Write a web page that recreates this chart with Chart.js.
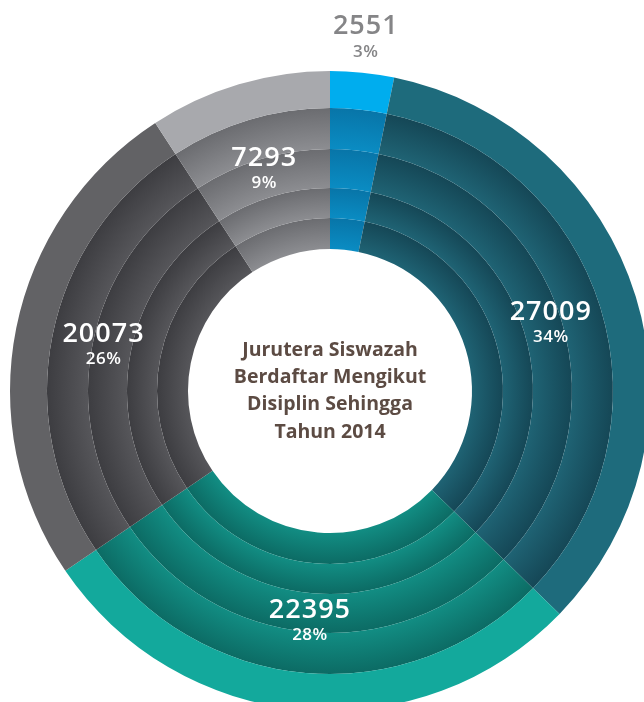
<!DOCTYPE html>
<html>
<head>
<meta charset="utf-8">
<script src="https://cdn.jsdelivr.net/npm/chart.js@4.4.0/dist/chart.umd.min.js"></script>
<style>
  html, body { margin: 0; padding: 0; background: #fff; overflow: hidden; }
  #wrap { position: relative; width: 644px; height: 702px; overflow: hidden; }
  #chart { position: absolute; left: 0; top: 0; }
</style>
</head>
<body>
<div id="wrap"><canvas id="chart" width="660" height="720"></canvas></div>
<script>
// Jurutera Siswazah berdaftar mengikut disiplin (2014), clockwise from top
const values = [2551, 27009, 22395, 20073, 7293];
const pctLabels = ['3%', '34%', '28%', '26%', '9%'];
const centerLines = ['Jurutera Siswazah', 'Berdaftar Mengikut', 'Disiplin Sehingga', 'Tahun 2014'];

// colours per slice: flat outer ring, inner rings shaded (light inner edge -> dark outer edge)
const outerColors = ['#00adee', '#1e6b7c', '#13a99c', '#626265', '#a8a9ad'];
const innerLight  = ['#0a8cc3', '#1f6374', '#128d83', '#56565a', '#8c8d91'];
const innerDark   = ['#0875a8', '#154756', '#0c6b64', '#3d3d41', '#6b6c70'];

// ring thickness, outside to inside
const ringWidths = [37, 41, 39, 30, 31];

const total = values.reduce((a, b) => a + b, 0);

function ringColor(ctx) {
    const i = ctx.dataIndex;
    if (ctx.datasetIndex === 0) return outerColors[i];
    const chart = ctx.chart;
    const ca = chart.chartArea;
    const ctrl = chart.getDatasetMeta(ctx.datasetIndex).controller;
    if (!ca || !ctrl || !ctrl.outerRadius) return innerDark[i];
    const cx = (ca.left + ca.right) / 2, cy = (ca.top + ca.bottom) / 2;
    const g = chart.ctx.createRadialGradient(cx, cy, ctrl.innerRadius, cx, cy, ctrl.outerRadius);
    g.addColorStop(0, innerLight[i]);
    g.addColorStop(1, innerDark[i]);
    return g;
}

const datasets = ringWidths.map(w => ({
    data: values,
    weight: w,
    backgroundColor: ringColor,
    borderWidth: 0,
    hoverOffset: 0
}));

const labelPlugin = {
    id: 'ringLabels',
    afterDatasetsDraw(chart) {
        const ctx = chart.ctx;
        const meta = chart.getDatasetMeta(0);
        const ca = chart.chartArea;
        const cx = (ca.left + ca.right) / 2, cy = (ca.top + ca.bottom) / 2;
        ctx.save();
        ctx.textAlign = 'center';
        ctx.textBaseline = 'middle';
        meta.data.forEach((arc, i) => {
            const p = arc.getProps(['startAngle', 'endAngle'], true);
            const mid = (p.startAngle + p.endAngle) / 2;
            const outside = values[i] / total < 0.05;
            const r = outside ? 355 : 231;
            const px = cx + Math.cos(mid) * r;
            const py = cy + Math.sin(mid) * r;
            ctx.fillStyle = outside ? '#858587' : '#ffffff';
            ctx.font = '600 27px "Open Sans"';
            ctx.letterSpacing = '1px';
            ctx.fillText(String(values[i]), px, py - 11);
            ctx.font = '600 17px "Open Sans"';
            ctx.letterSpacing = '0.5px';
            ctx.fillText(pctLabels[i], px, py + 14);
        });
        // centre title
        ctx.letterSpacing = '0px';
        ctx.fillStyle = '#5c4b43';
        ctx.font = 'bold 19.5px "Open Sans"';
        const lh = 27.3;
        centerLines.forEach((line, k) => {
            ctx.fillText(line, cx, cy + (k - (centerLines.length - 1) / 2) * lh);
        });
        ctx.restore();
    }
};

new Chart(document.getElementById('chart'), {
    type: 'doughnut',
    data: {
        labels: values.map(String),
        datasets: datasets
    },
    options: {
        responsive: false,
        animation: false,
        cutout: 142,
        layout: { padding: { left: 10, right: 10, top: 71, bottom: 9 } },
        plugins: {
            legend: { display: false },
            tooltip: { enabled: false }
        }
    },
    plugins: [labelPlugin]
});
</script>
</body>
</html>
